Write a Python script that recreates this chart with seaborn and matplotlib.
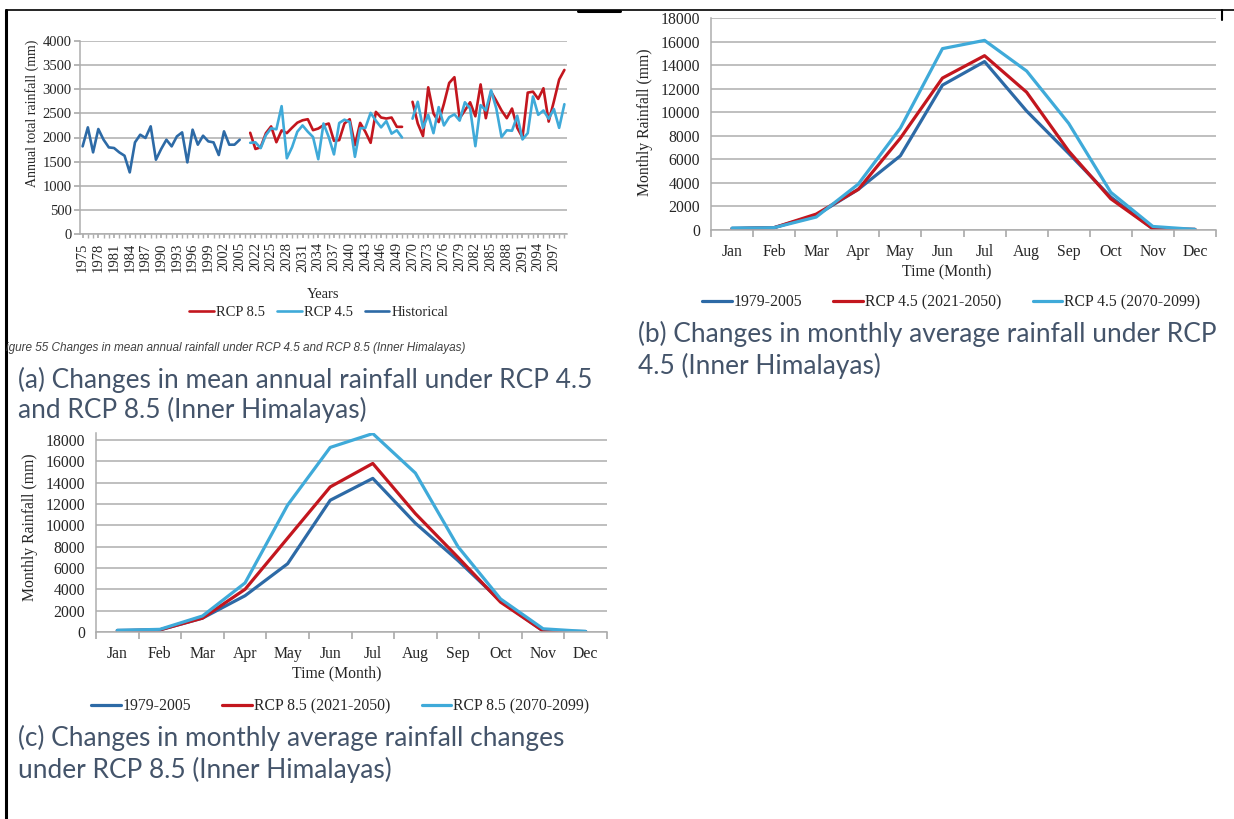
import matplotlib
matplotlib.use("Agg")
import numpy as np
import pandas as pd
import matplotlib.pyplot as plt
import seaborn as sns
from matplotlib.lines import Line2D

# ---------------- datos ----------------
# (a) lluvia anual total (mm)
years_hist = list(range(1975, 2006))
years_mid = list(range(2021, 2051))
years_end = list(range(2070, 2100))

rain_hist = [1816, 2210, 1692, 2176, 1954, 1795, 1782, 1692, 1623, 1277, 1899,
             2058, 1990, 2231, 1540, 1762, 1954, 1816, 2023, 2106, 1484, 2162,
             1851, 2037, 1920, 1899, 1637, 2127, 1851, 1851, 1954]

rcp85_mid = [2098, 1762, 1797, 2090, 2230, 1902, 2147, 2091, 2203, 2307, 2357,
             2379, 2152, 2186, 2255, 2290, 1931, 1945, 2290, 2379, 1841, 2303,
             2117, 1890, 2531, 2414, 2393, 2414, 2221, 2221]
rcp45_mid = [1890, 1900, 1780, 2050, 2190, 2170, 2650, 1570, 1800, 2120, 2250,
             2120, 2010, 1550, 2290, 2010, 1650, 2300, 2370, 2320, 1600, 2190,
             2200, 2510, 2350, 2210, 2340, 2080, 2150, 2000]

rcp85_end = [2740, 2290, 2030, 3040, 2500, 2320, 2700, 3130, 3250, 2400, 2560,
             2730, 2440, 3100, 2400, 2950, 2760, 2560, 2400, 2600, 2200, 2000,
             2930, 2950, 2800, 3020, 2330, 2750, 3200, 3400]
rcp45_end = [2390, 2740, 2200, 2470, 2090, 2630, 2250, 2420, 2480, 2350, 2730,
             2600, 1820, 2670, 2560, 2980, 2600, 2010, 2150, 2140, 2450, 1960,
             2090, 2850, 2470, 2560, 2390, 2590, 2200, 2690]

# eje categórico con filas vacías entre periodos
axis_years = years_hist + [None] + years_mid + [None] + years_end

# (b) y (c) lluvia mensual (mm)
months = ["Jan", "Feb", "Mar", "Apr", "May", "Jun",
          "Jul", "Aug", "Sep", "Oct", "Nov", "Dec"]

b_hist = [150, 200, 1250, 3450, 6300, 12300, 14300, 10100, 6500, 2800, 100, 50]
b_mid = [100, 200, 1350, 3450, 7800, 12900, 14800, 11700, 6700, 2650, 100, 50]
b_end = [150, 200, 1100, 3900, 8650, 15400, 16100, 13500, 9050, 3200, 300, 50]

c_hist = [150, 200, 1300, 3400, 6400, 12350, 14400, 10200, 6700, 2900, 100, 50]
c_mid = [100, 200, 1300, 4000, 8800, 13600, 15800, 11100, 7000, 2800, 100, 0]
c_end = [150, 250, 1500, 4600, 11900, 17300, 18600, 14900, 8000, 3100, 300, 50]

# ---------------- estilo ----------------
DARK = "#2D6AA6"
RED = "#C3161E"
LIGHT = "#3FAAD9"
GRID = "#ADADAD"
TITLE_COL = "#44546A"
SERIF = "Liberation Serif"
FS = 11.3  # texto de los gráficos mensuales

sns.set_theme(style="white")
plt.rcParams["font.family"] = [SERIF, "DejaVu Serif"]

W, H = 1234, 819
fig = plt.figure(figsize=(12.34, 8.19), dpi=100)


def fx(x):
    return x / W


def fy(y):
    return 1 - y / H


def style_axes(ax):
    for s in ["top", "right"]:
        ax.spines[s].set_visible(False)
    for s in ["left", "bottom"]:
        ax.spines[s].set_color(GRID)
        ax.spines[s].set_linewidth(1.1)
    ax.grid(axis="y", color=GRID, lw=1.1)
    ax.grid(axis="x", visible=False)
    ax.set_axisbelow(True)
    ax.set_xlabel("")
    ax.set_ylabel("")


# ---------------- (a) serie anual ----------------
ax_a = fig.add_axes([fx(80), fy(234), (567 - 80) / W, (234 - 41) / H])

pos = {yr: i for i, yr in enumerate(axis_years) if yr is not None}
parts = [
    ("Historical", 0, years_hist, rain_hist),
    ("RCP 8.5", 1, years_mid, rcp85_mid),
    ("RCP 8.5", 2, years_end, rcp85_end),
    ("RCP 4.5", 1, years_mid, rcp45_mid),
    ("RCP 4.5", 2, years_end, rcp45_end),
]
rows = []
for name, seg, yrs, vals in parts:
    for yr, v in zip(yrs, vals):
        rows.append({"pos": pos[yr], "rain": v, "serie": name, "tramo": seg})
df_a = pd.DataFrame(rows)

sns.lineplot(data=df_a, x="pos", y="rain", hue="serie", units="tramo",
             estimator=None, hue_order=["RCP 8.5", "RCP 4.5", "Historical"],
             palette=[RED, LIGHT, DARK], lw=1.9, ax=ax_a)

style_axes(ax_a)
ax_a.set_xlim(-0.5, len(axis_years) - 0.5)
ax_a.set_ylim(0, 4000)
ax_a.set_yticks(np.arange(0, 4001, 500))
tick_idx = list(range(0, len(axis_years), 3))
ax_a.set_xticks(tick_idx)
ax_a.set_xticklabels([str(axis_years[i]) for i in tick_idx], rotation=90)
ax_a.set_xticks(range(len(axis_years)), minor=True)
ax_a.tick_params(axis="x", which="both", length=3, color=GRID, labelsize=10.5, pad=3,
                 bottom=True)
ax_a.tick_params(axis="y", length=4, color=GRID, labelsize=10.5, pad=2, left=True)
sns.move_legend(ax_a, "center", bbox_to_anchor=((319 - 80) / 487, (234 - 312) / 193),
                ncol=3, frameon=False, title=None, fontsize=10.5,
                handlelength=1.7, handletextpad=0.15, columnspacing=0.8)

fig.text(fx(32), fy(113), "Annual total rainfall (mm)", rotation=90,
         ha="center", va="center", fontsize=10)
fig.text(fx(323), fy(295), "Years", ha="center", va="center", fontsize=10.5)
fig.text(fx(6), fy(348),
         "igure 55 Changes in mean annual rainfall under RCP 4.5 and RCP 8.5 (Inner Himalayas)",
         ha="left", va="center", fontsize=8.5, style="italic", color="#404040",
         family=["Liberation Sans", "DejaVu Sans"])


# ---------------- (b) y (c) mensual ----------------
def monthly(ax, hist, mid, end, scen, ymax, leg_xy):
    labels = ["1979-2005", f"{scen} (2021-2050)", f"{scen} (2070-2099)"]
    df = pd.DataFrame({
        "mes": months * 3,
        "lluvia": hist + mid + end,
        "serie": [labels[0]] * 12 + [labels[1]] * 12 + [labels[2]] * 12,
    })
    sns.lineplot(data=df, x="mes", y="lluvia", hue="serie", hue_order=labels,
                 palette=[DARK, RED, LIGHT], sort=False, lw=2.3, ax=ax)
    style_axes(ax)
    ax.set_xlim(-0.5, 11.5)
    ax.set_ylim(0, ymax)
    ax.set_yticks(np.arange(0, 18001, 2000))
    ax.set_xticks(np.arange(-0.5, 12, 1))
    ax.set_xticklabels([])
    ax.set_xticks(range(12), minor=True)
    ax.set_xticklabels(months, minor=True)
    ax.tick_params(axis="x", which="major", length=5, color=GRID, bottom=True)
    ax.tick_params(axis="x", which="minor", length=0, labelsize=FS, pad=10)
    ax.tick_params(axis="y", length=0, labelsize=FS, pad=8)
    sns.move_legend(ax, "center", bbox_to_anchor=leg_xy, ncol=3, frameon=False,
                    title=None, fontsize=FS, handlelength=1.9,
                    handletextpad=0.1, columnspacing=2.0)


ax_b = fig.add_axes([fx(711), fy(230), (1216 - 711) / W, (230 - 18) / H])
monthly(ax_b, b_hist, b_mid, b_end, "RCP 4.5", 18000,
        ((951 - 711) / 505, (230 - 302) / 212))
fig.text(fx(645), fy(122), "Monthly Rainfall (mm)", rotation=90,
         ha="center", va="center", fontsize=FS)
fig.text(fx(947), fy(271), "Time (Month)", ha="center", va="center", fontsize=FS)

ax_c = fig.add_axes([fx(96), fy(632), (607 - 96) / W, (632 - 432.5) / H])
monthly(ax_c, c_hist, c_mid, c_end, "RCP 8.5", 18700,
        ((340 - 96) / 511, (632 - 706) / 199.5))
fig.text(fx(30), fy(527), "Monthly Rainfall (mm)", rotation=90,
         ha="center", va="center", fontsize=FS)
fig.text(fx(337), fy(673), "Time (Month)", ha="center", va="center", fontsize=FS)

# ---------------- títulos de los paneles ----------------
tkw = dict(ha="left", va="center", fontsize=18.9, color=TITLE_COL,
           family=["Lato", "DejaVu Sans"])
fig.text(fx(18), fy(380), "(a) Changes in mean annual rainfall under RCP 4.5", **tkw)
fig.text(fx(18), fy(410), "and RCP 8.5 (Inner Himalayas)", **tkw)
fig.text(fx(638), fy(334), "(b) Changes in monthly average rainfall under RCP", **tkw)
fig.text(fx(638), fy(366), "4.5 (Inner Himalayas)", **tkw)
fig.text(fx(18), fy(738), "(c) Changes in monthly average rainfall changes", **tkw)
fig.text(fx(18), fy(770), "under RCP 8.5 (Inner Himalayas)", **tkw)

# ---------------- bordes de la página ----------------
fig.add_artist(Line2D([fx(6), fx(1234)], [fy(10), fy(10)], color="black", lw=1.2))
fig.add_artist(Line2D([fx(6), fx(6)], [fy(10), fy(819)], color="black", lw=2.2))
fig.add_artist(Line2D([fx(578), fx(620)], [fy(11), fy(11)], color="black", lw=2.2))
fig.add_artist(Line2D([fx(1222), fx(1222)], [fy(10), fy(20)], color="black", lw=1.5))

fig.savefig("out.png", dpi=100)
